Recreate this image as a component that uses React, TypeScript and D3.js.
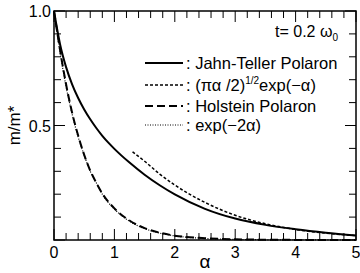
import React from 'react';
import * as d3 from 'd3';

// Jahn-Teller polaron
const alphaJT = [0, 0.1, 0.2, 0.3, 0.4, 0.5, 0.6, 0.7, 0.8, 0.9, 1.0, 1.25, 1.5, 1.75, 2.0, 2.5, 3.0, 3.5, 4.0, 4.5, 5.0];
const jahnTeller = [1.0, 0.855, 0.755, 0.68, 0.62, 0.57, 0.527, 0.489, 0.455, 0.425, 0.398, 0.338, 0.285, 0.239, 0.199, 0.136, 0.0935, 0.066, 0.047, 0.032, 0.02];

// (pi a / 2)^1/2 exp(-a) asymptote
const alphaAsym = [1.3, 1.5, 1.75, 2.0, 2.5, 3.0, 3.5, 4.0, 4.5, 5.0];
const asymptote = [0.385, 0.344, 0.288, 0.24, 0.164, 0.108, 0.071, 0.046, 0.03, 0.019];

// Holstein polaron and exp(-2a)
const alphaH = [0, 0.1, 0.2, 0.3, 0.4, 0.5, 0.6, 0.7, 0.8, 1.0, 1.25, 1.5, 1.75, 2.0, 2.5, 3.0, 4.0, 5.0];
const holstein = [1.0, 0.83, 0.68, 0.556, 0.456, 0.372, 0.303, 0.25, 0.203, 0.138, 0.085, 0.052, 0.032, 0.019, 0.008, 0.003, 0.0005, 0.0001];
const expTwo = [1.0, 0.82, 0.67, 0.55, 0.45, 0.37, 0.3, 0.25, 0.2, 0.135, 0.082, 0.05, 0.03, 0.018, 0.007, 0.0025, 0.0003, 0.00005];

const xTickLabels = ['0', '1', '2', '3', '4', '5'];
const yTickLabels = ['0.5', '1.0'];

const width = 360;
const height = 273;
const margin = { top: 11, right: 4, bottom: 33, left: 54 };
const font = '"Liberation Sans", Arial, Helvetica, sans-serif';

type Pt = [number, number];
const zip = (xs: number[], ys: number[]): Pt[] => xs.map((x, i) => [x, ys[i]]);

export default function App() {
  const x = d3.scaleLinear().domain([0, 5]).range([margin.left, width - margin.right]);
  const y = d3.scaleLinear().domain([0, 1]).range([height - margin.bottom, margin.top]);

  const line = d3
    .line<Pt>()
    .x((d) => x(d[0]))
    .y((d) => y(d[1]))
    .curve(d3.curveMonotoneX);

  const x0 = x(0);
  const x1 = x(5);
  const y0 = y(0);
  const y1 = y(1);

  const xMinor = d3.range(0, 26).map((i) => i * 0.2);
  const yMinor = d3.range(0, 11).map((i) => i * 0.1);
  const isMajorX = (v: number) => Math.abs(v - Math.round(v)) < 1e-6;
  const isMajorY = (v: number) => Math.abs(v * 2 - Math.round(v * 2)) < 1e-6;
  const minorLen = 7;
  const majorLen = 11;

  const legend = [
    { dash: undefined, w: 2 },
    { dash: '3,2', w: 1.5 },
    { dash: '8,4', w: 2 },
    { dash: '1,1.5', w: 1 },
  ];
  const legendY = [63, 85, 106, 125];

  return (
    <svg
      width={width}
      height={height}
      viewBox={`0 0 ${width} ${height}`}
      style={{ position: 'absolute', left: 0, top: 0, background: '#fff' }}
      fontFamily={font}
    >
      <rect width={width} height={height} fill="#fff" />

      {/* curves */}
      <path d={line(zip(alphaH, expTwo)) || ''} fill="none" stroke="#000" strokeWidth={1.2} strokeDasharray="1,1.5" />
      <path d={line(zip(alphaH, holstein)) || ''} fill="none" stroke="#000" strokeWidth={2} strokeDasharray="8,4" />
      <path d={line(zip(alphaAsym, asymptote)) || ''} fill="none" stroke="#000" strokeWidth={1.5} strokeDasharray="3,2" />
      <path d={line(zip(alphaJT, jahnTeller)) || ''} fill="none" stroke="#000" strokeWidth={2} />

      {/* frame */}
      <rect x={x0} y={y1} width={x1 - x0} height={y0 - y1} fill="none" stroke="#000" strokeWidth={1.5} />

      {/* x ticks bottom and top */}
      {xMinor.map((v, i) => {
        const len = isMajorX(v) ? majorLen : minorLen;
        return (
          <g key={'xt' + i} stroke="#000" strokeWidth={1}>
            <line x1={x(v)} x2={x(v)} y1={y0} y2={y0 - len} />
            <line x1={x(v)} x2={x(v)} y1={y1} y2={y1 + len} />
          </g>
        );
      })}
      {/* y ticks left and right */}
      {yMinor.map((v, i) => {
        const len = isMajorY(v) ? majorLen : minorLen;
        return (
          <g key={'yt' + i} stroke="#000" strokeWidth={1}>
            <line x1={x0} x2={x0 + len} y1={y(v)} y2={y(v)} />
            <line x1={x1} x2={x1 - len} y1={y(v)} y2={y(v)} />
          </g>
        );
      })}

      {/* tick labels */}
      {xTickLabels.map((t) => (
        <text key={'xl' + t} x={x(+t)} y={y0 + 18} fontSize={16} textAnchor="middle">
          {t}
        </text>
      ))}
      {yTickLabels.map((t) => (
        <text key={'yl' + t} x={x0 - 3} y={y(+t) + 6} fontSize={16} textAnchor="end">
          {t}
        </text>
      ))}

      {/* axis titles */}
      <text x={(x0 + x1) / 2} y={268} fontSize={19} textAnchor="middle">
        α
      </text>
      <text transform={`translate(20,${(y0 + y1) / 2}) rotate(-90)`} fontSize={17} textAnchor="middle">
        m/m*
      </text>

      {/* annotation */}
      <text x={338} y={37} fontSize={16} textAnchor="end">
        t= 0.2 ω<tspan fontSize={10} dy={4}>0</tspan>
      </text>

      {/* legend */}
      {legend.map((l, i) => (
        <line
          key={'lg' + i}
          x1={145}
          x2={183}
          y1={legendY[i]}
          y2={legendY[i]}
          stroke="#000"
          strokeWidth={l.w}
          strokeDasharray={l.dash}
        />
      ))}
      <text x={186} y={legendY[0] + 6} fontSize={16.5}>: Jahn-Teller Polaron</text>
      <text x={186} y={legendY[1] + 6} fontSize={16.5}>
        : (πα /2)<tspan fontSize={10} dy={-7}>1/2</tspan>
        <tspan dy={7}>exp(−α)</tspan>
      </text>
      <text x={186} y={legendY[2] + 6} fontSize={16.5}>: Holstein Polaron</text>
      <text x={186} y={legendY[3] + 6} fontSize={16.5}>: exp(−2α)</text>
    </svg>
  );
}
